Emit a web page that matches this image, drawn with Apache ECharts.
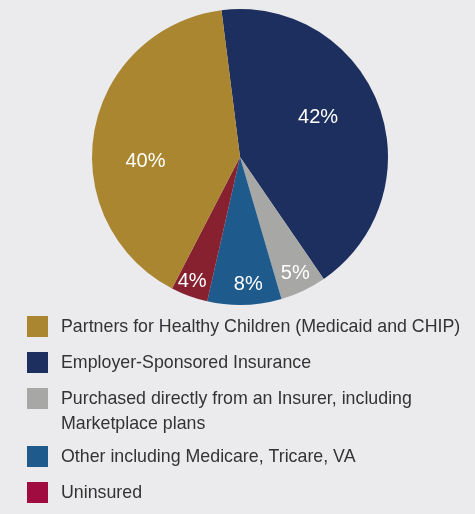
<!DOCTYPE html>
<html>
<head>
<meta charset="utf-8">
<script src="https://cdn.jsdelivr.net/npm/echarts@6/dist/echarts.min.js"></script>
<style>
  html, body { margin: 0; padding: 0; background: #ebebed; }
  #main { width: 475px; height: 514px; }
</style>
</head>
<body>
<div id="main"></div>
<script>
  // slices in clockwise order starting near 12 o'clock
  var categories = ['Employer-Sponsored Insurance', 'Purchased directly from an Insurer, including Marketplace plans',
    'Other including Medicare, Tricare, VA', 'Uninsured', 'Partners for Healthy Children (Medicaid and CHIP)'];
  var values = [42, 5, 8, 4, 40];
  var sliceColors = ['#1d2f5e', '#a7a7a6', '#1f5a8c', '#872130', '#aa8630'];

  // legend order as printed under the pie
  var legendNames = ['Partners for Healthy Children (Medicaid and CHIP)', 'Employer-Sponsored Insurance',
    'Purchased directly from an Insurer, including\nMarketplace plans', 'Other including Medicare, Tricare, VA', 'Uninsured'];
  var legendColors = ['#aa8630', '#1d2f5e', '#a7a7a6', '#1f5a8c', '#a00b40'];

  // label placement: fraction of radius and angle nudge (deg) per slice
  var labelRadius = [0.57, 0.85, 0.84, 0.88, 0.62];
  var labelNudge = [-6, 0, -2, 1, -13];

  var R = 148, cx = 240, cy = 157, startAngle = 97.2;
  var total = values.reduce(function (a, b) { return a + b; }, 0);

  var acc = 0;
  var data = values.map(function (v, i) {
    var mid = (90 - startAngle) + (acc + v / 2) / total * 360;
    acc += v;
    var base = mid * Math.PI / 180;
    var rad = (mid + labelNudge[i]) * Math.PI / 180;
    var r = labelRadius[i] * R, r0 = R / 2;
    // offset from the default 'inside' spot (half radius, mid angle)
    return {
      name: categories[i],
      value: v,
      itemStyle: { color: sliceColors[i] },
      label: { offset: [r * Math.sin(rad) - r0 * Math.sin(base), -r * Math.cos(rad) + r0 * Math.cos(base)] }
    };
  });

  // hand built legend so the swatch sits on the first text line
  var graphics = [];
  var y = 326.5;
  legendNames.forEach(function (name, i) {
    var lines = name.split('\n').length;
    graphics.push({
      type: 'rect', left: 27, top: y - 10.5,
      shape: { width: 21, height: 21 },
      style: { fill: legendColors[i] }
    });
    graphics.push({
      type: 'text', left: 61, top: y - 12,
      style: {
        text: name, fill: '#333333', font: '17.8px "Liberation Sans", Arial, sans-serif',
        lineHeight: 25
      }
    });
    y += 36 + (lines - 1) * 22;
  });

  var option = {
    backgroundColor: '#ebebed',
    animation: false,
    graphic: graphics,
    series: [{
      type: 'pie',
      center: [cx, cy],
      radius: [0, R],
      startAngle: startAngle,
      clockwise: true,
      avoidLabelOverlap: false,
      itemStyle: { borderWidth: 0 },
      label: {
        show: true,
        position: 'inside',
        formatter: '{c}%',
        color: '#ffffff',
        fontSize: 20,
        fontFamily: 'Liberation Sans, Arial, sans-serif'
      },
      labelLine: { show: false },
      emphasis: { disabled: true },
      data: data
    }]
  };

  echarts.init(document.getElementById('main')).setOption(option);
</script>
</body>
</html>
